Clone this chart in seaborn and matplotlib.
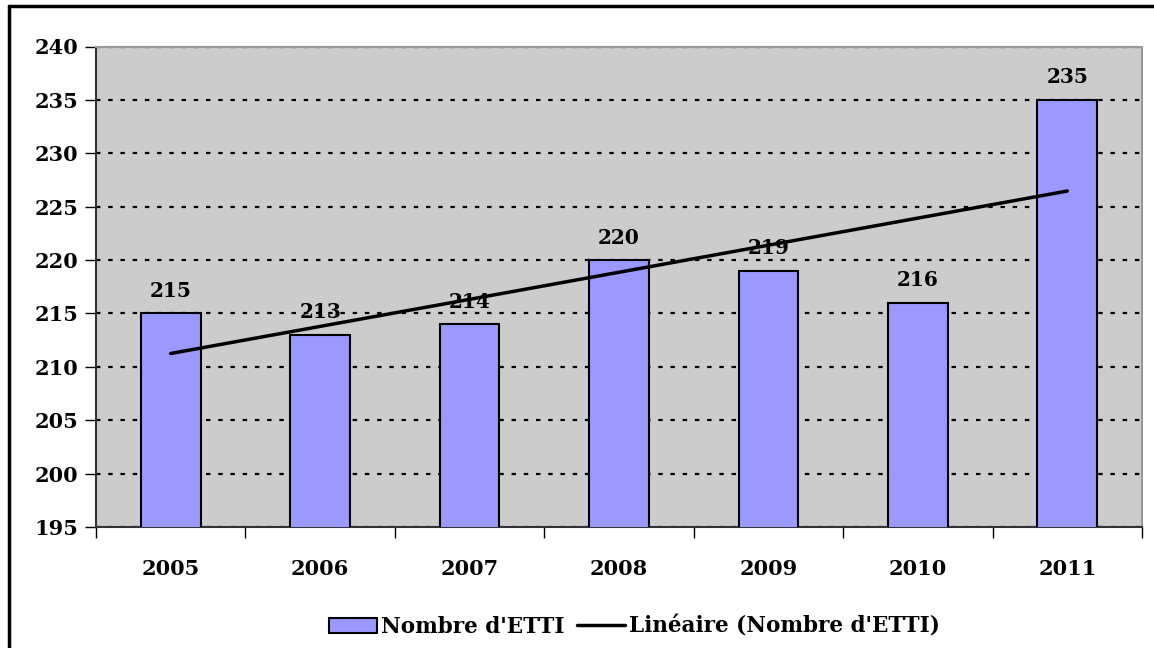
import numpy as np
import pandas as pd
import matplotlib
matplotlib.use('Agg')
import matplotlib.pyplot as plt
import seaborn as sns
from matplotlib.lines import Line2D
from matplotlib.patches import Patch

# Data
years = ['2005', '2006', '2007', '2008', '2009', '2010', '2011']
nb_etti = [215, 213, 214, 220, 219, 216, 235]

df = pd.DataFrame({'Annee': years, 'ETTI': nb_etti})

sns.set_theme(style='white')
plt.rcParams['font.family'] = ['DejaVu Serif']
plt.rcParams['font.weight'] = 'bold'
plt.rcParams['text.color'] = 'black'
plt.rcParams['xtick.labelcolor'] = 'black'
plt.rcParams['ytick.labelcolor'] = 'black'

fig = plt.figure(figsize=(11.54, 6.48), dpi=100)
ax = fig.add_axes([96 / 1154, 1 - 527 / 648, 1046 / 1154, 480.5 / 648])
ax.set_facecolor('#CCCCCC')

sns.barplot(data=df, x='Annee', y='ETTI', color='#9999FF', edgecolor='black',
            linewidth=1.5, width=0.40, saturation=1, ax=ax, zorder=3)

# linear trend (Excel "Linéaire")
xs = np.arange(len(nb_etti))
slope, intercept = np.polyfit(xs, nb_etti, 1)
ax.plot(xs, slope * xs + intercept, color='black', lw=2.5, zorder=4)

for i, v in enumerate(nb_etti):
    ax.annotate(str(v), (i, v), xytext=(0, 9), textcoords='offset points',
                ha='center', va='bottom', fontsize=14.5, fontweight='bold',
                color='black', zorder=5)

ax.set_ylim(195, 240)
ax.set_xlim(-0.5, len(years) - 0.5)
ax.set_yticks(range(195, 241, 5))
ax.yaxis.grid(True, color='black', linestyle=(0, (2, 3.5)), linewidth=1.6, zorder=1)
ax.set_axisbelow(True)
ax.set_xlabel('')
ax.set_ylabel('')

ax.tick_params(axis='y', which='major', left=True, length=8, width=1, color='black',
               labelsize=15, pad=5)
ax.tick_params(axis='x', which='major', bottom=False, labelsize=15, pad=17)
ax.set_xticks(np.arange(-0.5, len(years), 1), minor=True)
ax.tick_params(axis='x', which='minor', bottom=True, length=8, width=1, color='black')

for s in ['left', 'bottom']:
    ax.spines[s].set_color('#333333')
    ax.spines[s].set_linewidth(1.5)
for s in ['top', 'right']:
    ax.spines[s].set_color('#999999')
    ax.spines[s].set_linewidth(1.5)

handles = [Patch(facecolor='#9999FF', edgecolor='black', linewidth=1.5),
           Line2D([0], [0], color='black', lw=2.5)]
fig.legend(handles, ["Nombre d'ETTI", "Linéaire (Nombre d'ETTI)"],
           loc='center', bbox_to_anchor=(0.55, 1 - 627 / 648), ncol=2,
           frameon=False, handlelength=2.2, handletextpad=0.2,
           columnspacing=0.6, labelcolor='black',
           prop={'weight': 'bold', 'size': 15.5})

# outer chart border (cropped on right and bottom)
fig.add_artist(Line2D([9 / 1154, 9 / 1154], [0, 1 - 6 / 648], color='black', lw=2.5))
fig.add_artist(Line2D([9 / 1154, 1], [1 - 6 / 648, 1 - 6 / 648], color='black', lw=2.5))

fig.savefig('out.png', dpi=100)
